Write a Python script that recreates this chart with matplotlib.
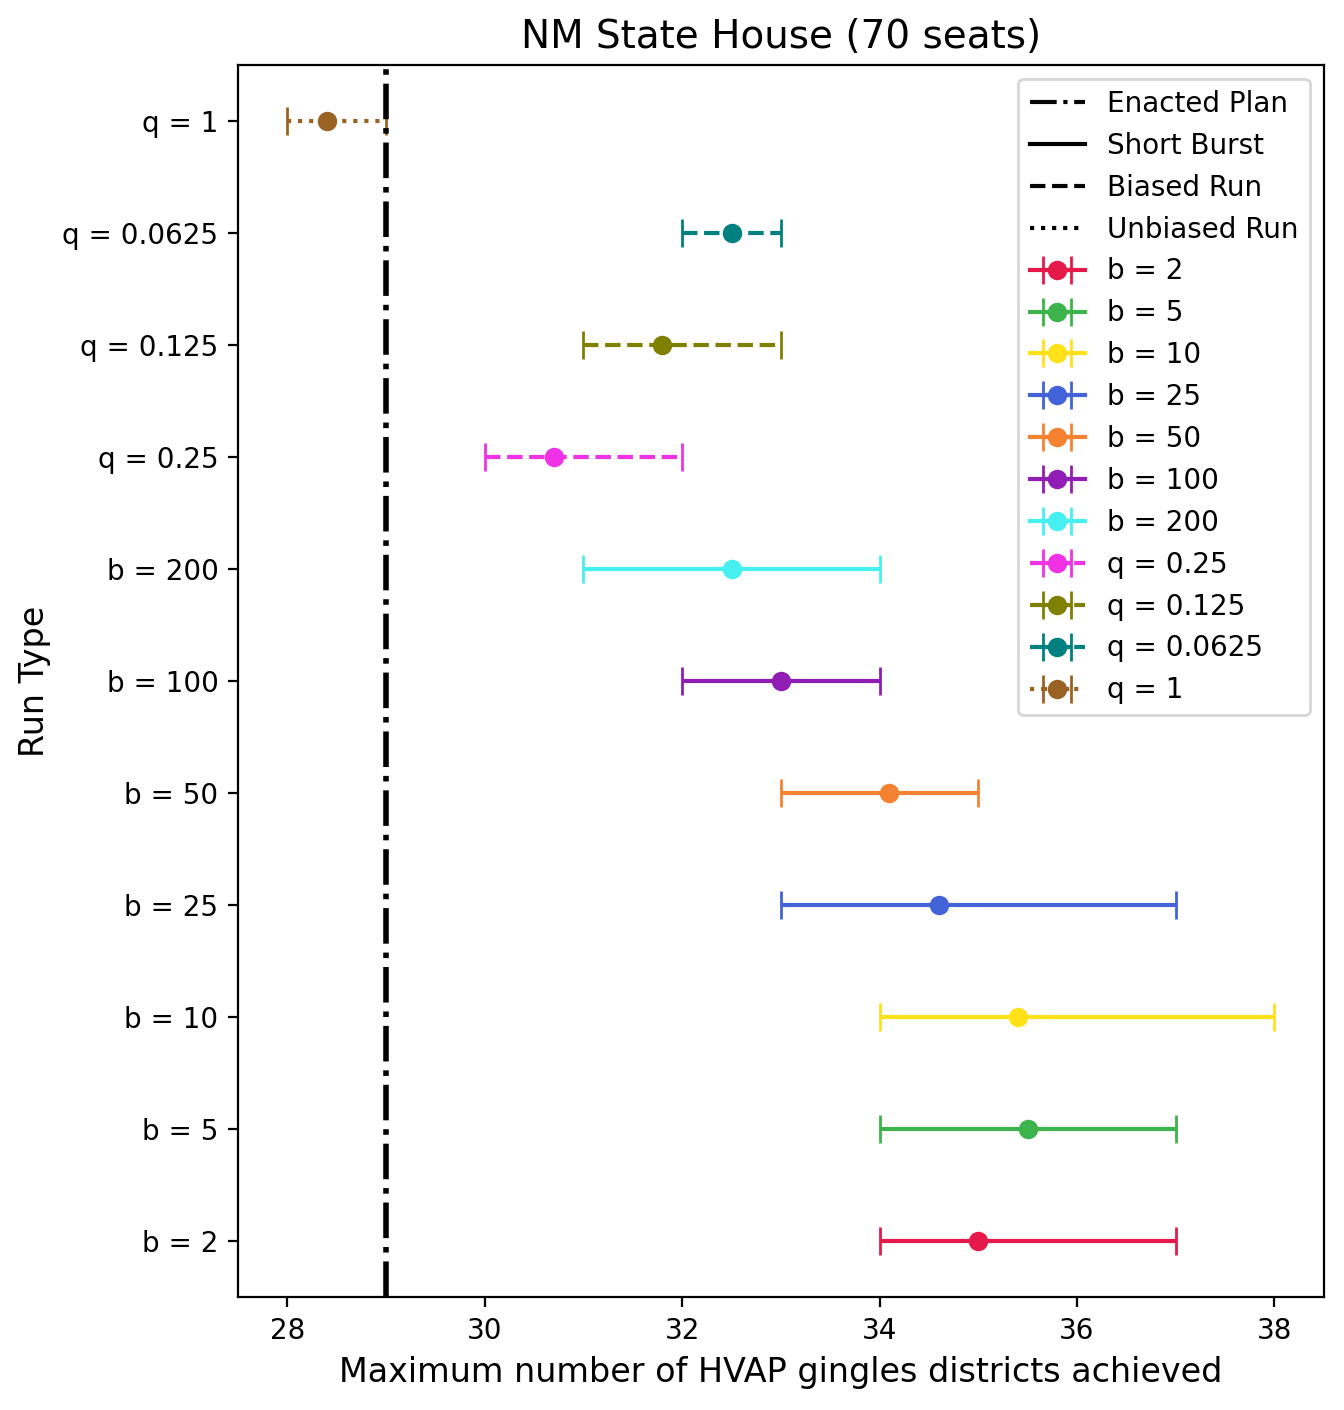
import matplotlib
matplotlib.use("Agg")
import matplotlib.pyplot as plt
from matplotlib.lines import Line2D

labels = ["b = 2", "b = 5", "b = 10", "b = 25", "b = 50", "b = 100", "b = 200",
          "q = 0.25", "q = 0.125", "q = 0.0625", "q = 1"]
means = [35.0, 35.5, 35.4, 34.6, 34.1, 33.0, 32.5, 30.7, 31.8, 32.5, 28.4]
lows = [34, 34, 34, 33, 33, 32, 31, 30, 31, 32, 28]
highs = [37, 37, 38, 37, 35, 34, 34, 32, 33, 33, 29]
colors = ["#e6194b", "#3cb44b", "#ffe119", "#4363d8", "#f58231", "#911eb4", "#46f0f0",
          "#f032e6", "#808000", "#008080", "#9a6324"]
styles = ["-"] * 7 + ["--"] * 3 + [":"]
enacted = 29

fig = plt.figure(figsize=(6.72, 7.05), dpi=200)
ax = fig.add_axes([0.177, 0.080, 0.808, 0.874])

for i, (lab, m, lo, hi, c, ls) in enumerate(zip(labels, means, lows, highs, colors, styles)):
    eb = ax.errorbar([m], [i], xerr=[[m - lo], [hi - m]], fmt="o" + ls, color=c,
                     capsize=5, label=lab)
    eb[2][0].set_linestyle(ls)

ax.axvline(enacted, color="black", linestyle="-.", linewidth=2)

ax.set_yticks(range(len(labels)))
ax.set_yticklabels(labels)
ax.set_xlabel("Maximum number of HVAP gingles districts achieved", fontsize=12)
ax.set_ylabel("Run Type", fontsize=12)
ax.set_title("NM State House (70 seats)", fontsize=14)

style_handles = [
    Line2D([0], [0], color="black", linestyle="-.", label="Enacted Plan"),
    Line2D([0], [0], color="black", linestyle="-", label="Short Burst"),
    Line2D([0], [0], color="black", linestyle="--", label="Biased Run"),
    Line2D([0], [0], color="black", linestyle=":", label="Unbiased Run"),
]
h, l = ax.get_legend_handles_labels()
ax.legend(handles=style_handles + h, loc="upper right")

fig.savefig("out.png", dpi=200)
